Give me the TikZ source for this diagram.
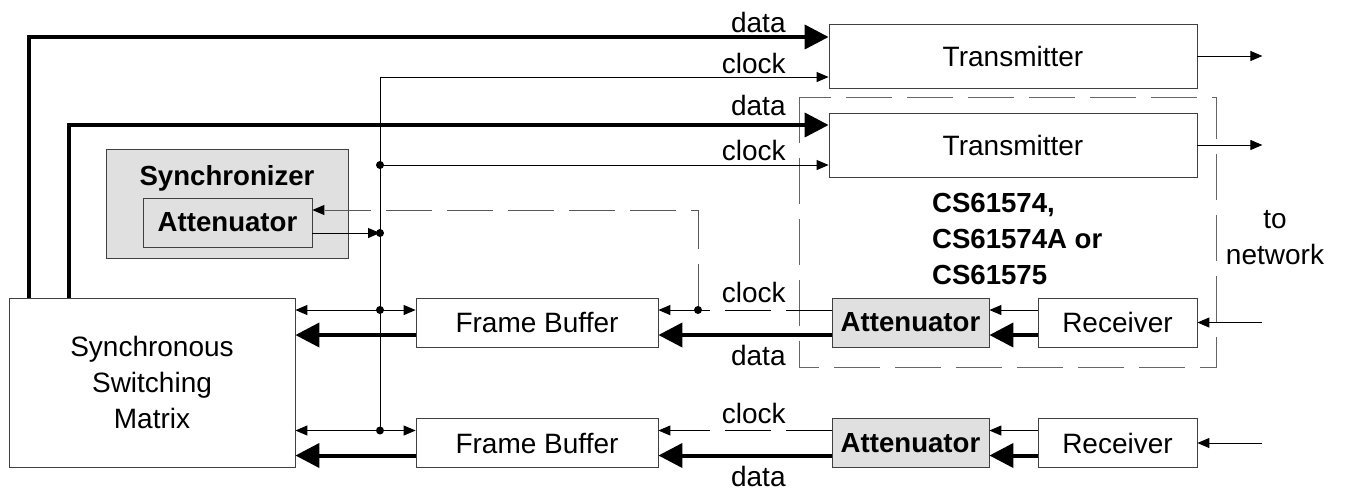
\documentclass[tikz,border=0pt]{standalone}
\usepackage{fontspec}
\setmainfont{Liberation Sans}
\usetikzlibrary{arrows.meta}

\begin{document}
\begin{tikzpicture}[x=0.5pt, y=-0.5pt,
    font=\fontsize{14}{18}\selectfont,
    blk/.style={draw=black!75, fill=white, inner sep=0pt},
    attbox/.style={blk, fill=black!12, font=\fontsize{13.8}{18}\selectfont\bfseries},
    dataln/.style={line width=2pt, -{Triangle[length=12pt,width=12pt]}},
    clkln/.style={line width=0.5pt, -{Triangle[length=6pt,width=5pt]}},
    lng/.style={dash pattern=on 23pt off 7.5pt},
    lbl/.style={anchor=east, inner sep=0pt}]
    \path [use as bounding box]
      (0, 0) rectangle (1356, 489);

    \newcommand{\tapdot}[1]{\fill #1 circle [radius=2pt];}

    % chip outline
    \draw[draw=black!60, lng] (799, 97) rectangle (1216, 367);

    \node[blk, minimum width=143pt, minimum height=84.5pt, align=center]
      (ssm) at (152, 382.5) {Synchronous\\Switching\\Matrix};
    \node[blk, minimum width=184pt, minimum height=32pt]
      (tx1) at (1013, 56) {Transmitter};
    \node[blk, minimum width=184pt, minimum height=32pt]
      (tx2) at (1013, 145) {Transmitter};

    \node[blk, fill=black!12, minimum width=121pt, minimum height=54.5pt]
      (sync) at (227, 203.5) {};
    \node[font=\fontsize{13.8}{18}\selectfont\bfseries]
      (synclbl) at (227, 178) {Synchronizer};
    \node[attbox, minimum width=84.5pt, minimum height=24.5pt]
      (satt) at (227.5, 222.5) {Attenuator};

    \node[anchor=west, align=left, font=\fontsize{13.8}{18}\selectfont\bfseries]
      (cs) at (925, 239) {CS61574,\\CS61574A or\\CS61575};
    \node[align=center] (net) at (1275, 238) {to\\network};

    % clock bus
    \coordinate (bustop) at (380, 77);

    \foreach \r/\y in {1/322.5, 2/443} {
      \node[blk, minimum width=121pt, minimum height=24.5pt]
        (fb\r) at (537, \y) {Frame Buffer};
      \node[attbox, minimum width=78.5pt, minimum height=24.5pt]
        (att\r) at (910.5, \y) {Attenuator};
      \node[blk, minimum width=79.5pt, minimum height=24.5pt]
        (rx\r) at (1117.5, \y) {Receiver};
      \coordinate (in\r) at (1262, \y);
      \coordinate (fbc\r) at ([yshift=6.25pt]fb\r.west);

      \draw[clkln] (in\r) -- (rx\r.east);
      \draw[clkln] ([yshift=6.25pt]rx\r.west) -- ([yshift=6.25pt]att\r.east);
      \draw[dataln] ([yshift=-6.25pt]rx\r.west) -- ([yshift=-6.25pt]att\r.east);
      \draw[clkln, lng] ([yshift=6.25pt]att\r.west) -- ([yshift=6.25pt]fb\r.east);
      \draw[dataln] ([yshift=-6.25pt]att\r.west) -- ([yshift=-6.25pt]fb\r.east);
      \draw[dataln] ([yshift=-6.25pt]fb\r.west) -- ([yshift=-6.25pt]fb\r.west -| ssm.east);
      \draw[clkln, {Triangle[length=6pt,width=5pt]}-{Triangle[length=6pt,width=5pt]}]
        (fbc\r -| ssm.east) -- (fbc\r);
      \tapdot{(fbc\r -| bustop)}

      \node[lbl] (clk\r) at (786, \y-30) {clock};
      \node[lbl] (dat\r) at (786, \y+33) {data};
    }

    \draw[line width=0.5pt] (bustop) -- (bustop |- fbc2);

    % transmit side
    \draw[dataln] ([xshift=10pt]ssm.north west) |- ([yshift=9.5pt]tx1.west);
    \draw[dataln] ([xshift=30pt]ssm.north west) |- ([yshift=10pt]tx2.west);
    \draw[clkln] (bustop) -- ([yshift=-10.5pt]tx1.west);
    \coordinate (c2) at ([yshift=-10pt]tx2.west);
    \draw[clkln] (c2 -| bustop) -- (c2);
    \tapdot{(c2 -| bustop)}
    \coordinate (out1) at ([xshift=32.5pt]tx1.east);
    \coordinate (out2) at ([xshift=32.5pt]tx2.east);
    \draw[clkln] (tx1.east) -- (out1);
    \draw[clkln] (tx2.east) -- (out2);

    \node[lbl] (dtx1) at (786, 22) {data};
    \node[lbl] (ctx1) at (786, 63) {clock};
    \node[lbl] (dtx2) at (786, 105) {data};
    \node[lbl] (ctx2) at (786, 150) {clock};

    % synchronizer taps
    \coordinate (so) at ([yshift=-5.25pt]satt.east);
    \draw[clkln] (so) -- (so -| bustop);
    \tapdot{(so -| bustop)}
    \coordinate (si) at ([yshift=6.25pt]satt.east);
    \coordinate (tap) at (698,0 |- fbc1);
    \draw[line width=0.5pt, -{Triangle[length=6pt,width=5pt,color=black]},
      draw=black!65, lng] (tap) |- (si);
    \tapdot{(tap)}
  \end{tikzpicture}
\end{document}
